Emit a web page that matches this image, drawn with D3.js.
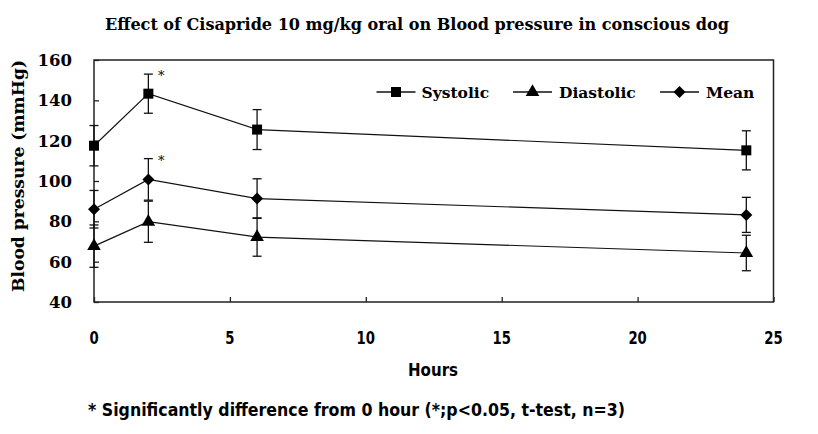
<!DOCTYPE html>
<html><head><meta charset="utf-8">
<script src="https://cdn.jsdelivr.net/npm/d3@7"></script>
<style>body{margin:0;background:#fff}svg{display:block}</style>
</head><body>
<svg id="c" width="818" height="434"></svg>
<script>
const hours = [0, 2, 6, 24];
const systolic = [117.5, 143.3, 125.5, 115.2];
const systolicSD = [10, 9.7, 9.9, 9.7];
const meanBP = [86, 100.8, 91.3, 83.2];
const meanSD = [9.3, 10.3, 9.8, 8.7];
const diastolic = [67.7, 79.8, 72.2, 64.3];
const diastolicSD = [10.5, 10.2, 9.5, 8.8];
const significantHours = [2];
const xTicks = [0, 5, 10, 15, 20, 25];
const yTicks = [40, 60, 80, 100, 120, 140, 160];
const seriesNames = ["Systolic", "Diastolic", "Mean"];

const svg = d3.select("#c");
const L = 94, R = 773.5, T = 60, B = 302;
const x = d3.scaleLinear().domain([0, 25]).range([L, R]);
const y = d3.scaleLinear().domain([40, 160]).range([B, T]);
const serif = "'DejaVu Serif', serif";
const sans = "'DejaVu Sans', sans-serif";

// title
svg.append("text").attr("x", 417).attr("y", 30).attr("text-anchor", "middle")
  .attr("font-family", "'DejaVu Serif Condensed', 'DejaVu Serif', serif").attr("font-weight", "bold")
  .attr("font-size", 16).attr("textLength", 624).attr("lengthAdjust", "spacingAndGlyphs")
  .text("Effect of Cisapride 10 mg/kg oral on Blood pressure in conscious dog");

// axes (ticks inward)
const gx = svg.append("g").attr("transform", `translate(0,${B})`)
  .call(d3.axisTop(x).tickValues(xTicks).tickSize(5).tickFormat(""));
const gy = svg.append("g").attr("transform", `translate(${L},0)`)
  .call(d3.axisRight(y).tickValues(yTicks).tickSize(5).tickFormat(""));
[gx, gy].forEach(g => { g.select(".domain").remove(); g.selectAll("line").attr("stroke", "#222").attr("stroke-width", 1.3); });

// frame
svg.append("rect").attr("x", L).attr("y", T).attr("width", R - L).attr("height", B - T)
  .attr("fill", "none").attr("stroke", "#222").attr("stroke-width", 1.5);

// tick labels
svg.append("g").selectAll("text").data(xTicks).join("text")
  .attr("transform", d => `translate(${x(d)},344) scale(0.78,1)`).attr("text-anchor", "middle")
  .attr("font-family", sans).attr("font-weight", "bold").attr("font-size", 17)
  .text(d => d);
svg.append("g").selectAll("text").data(yTicks).join("text")
  .attr("x", 72).attr("y", d => y(d) + 6).attr("text-anchor", "end")
  .attr("font-family", serif).attr("font-weight", "bold").attr("font-size", 16.5)
  .text(d => d);

// axis titles
svg.append("text").attr("x", 433).attr("y", 376).attr("text-anchor", "middle")
  .attr("font-family", sans).attr("font-weight", "bold").attr("font-size", 18)
  .attr("textLength", 50).attr("lengthAdjust", "spacingAndGlyphs").text("Hours");
svg.append("text").attr("transform", "translate(24,176) rotate(-90)").attr("text-anchor", "middle")
  .attr("font-family", serif).attr("font-weight", "bold").attr("font-size", 17)
  .attr("textLength", 232).attr("lengthAdjust", "spacingAndGlyphs")
  .text("Blood pressure (mmHg)");

// footnote
svg.append("text").attr("x", 88).attr("y", 416)
  .attr("font-family", sans).attr("font-weight", "bold").attr("font-size", 17)
  .attr("textLength", 537).attr("lengthAdjust", "spacingAndGlyphs")
  .text("* Significantly difference from 0 hour (*;p<0.05, t-test, n=3)");

const series = [
  {name: "Systolic", v: systolic, sd: systolicSD, sym: d3.symbolSquare, size: 100, rot: 0},
  {name: "Diastolic", v: diastolic, sd: diastolicSD, sym: d3.symbolTriangle, size: 80, rot: 0},
  {name: "Mean", v: meanBP, sd: meanSD, sym: d3.symbolSquare, size: 72, rot: 45}
];
const line = d3.line().x(d => x(d[0])).y(d => y(d[1]));
const cap = 4.5;
series.forEach(s => {
  const pts = hours.map((h, i) => [h, s.v[i], s.sd[i]]);
  const g = svg.append("g");
  g.append("path").attr("d", line(pts)).attr("fill", "none").attr("stroke", "#111").attr("stroke-width", 1.2);
  pts.forEach(p => {
    const cx = x(p[0]), y1 = y(p[1] + p[2]), y2 = y(p[1] - p[2]);
    g.append("line").attr("x1", cx).attr("x2", cx).attr("y1", y1).attr("y2", y2).attr("stroke", "#111").attr("stroke-width", 1.3);
    [y1, y2].forEach(yy => g.append("line").attr("x1", cx - cap).attr("x2", cx + cap).attr("y1", yy).attr("y2", yy).attr("stroke", "#111").attr("stroke-width", 1.3));
  });
  g.selectAll("path.m").data(pts).join("path").attr("class", "m")
    .attr("transform", d => `translate(${x(d[0])},${y(d[1])}) rotate(${s.rot})`)
    .attr("d", d3.symbol().type(s.sym).size(s.size)).attr("fill", "#000");
  if (s.name !== "Diastolic") {
    significantHours.forEach(h => {
      const i = hours.indexOf(h);
      svg.append("text").attr("x", x(h) + 13).attr("y", y(s.v[i] + s.sd[i]) + 6)
        .attr("text-anchor", "middle").attr("font-family", serif).attr("font-size", 13).text("*");
    });
  }
});

// legend
const legX = [376.5, 513, 660], legTextX = [421.5, 559, 706], legY = 92;
series.forEach(s => {
  const li = seriesNames.indexOf(s.name);
  const g = svg.append("g");
  g.append("line").attr("x1", legX[li]).attr("x2", legX[li] + 39).attr("y1", legY).attr("y2", legY).attr("stroke", "#111").attr("stroke-width", 1.3);
  g.append("path").attr("transform", `translate(${legX[li] + 19.5},${legY}) rotate(${s.rot})`)
    .attr("d", d3.symbol().type(s.sym).size(s.size)).attr("fill", "#000");
  g.append("text").attr("x", legTextX[li]).attr("y", legY + 5.5)
    .attr("font-family", serif).attr("font-weight", "bold").attr("font-size", 15.5).text(s.name);
});
</script>
</body></html>
